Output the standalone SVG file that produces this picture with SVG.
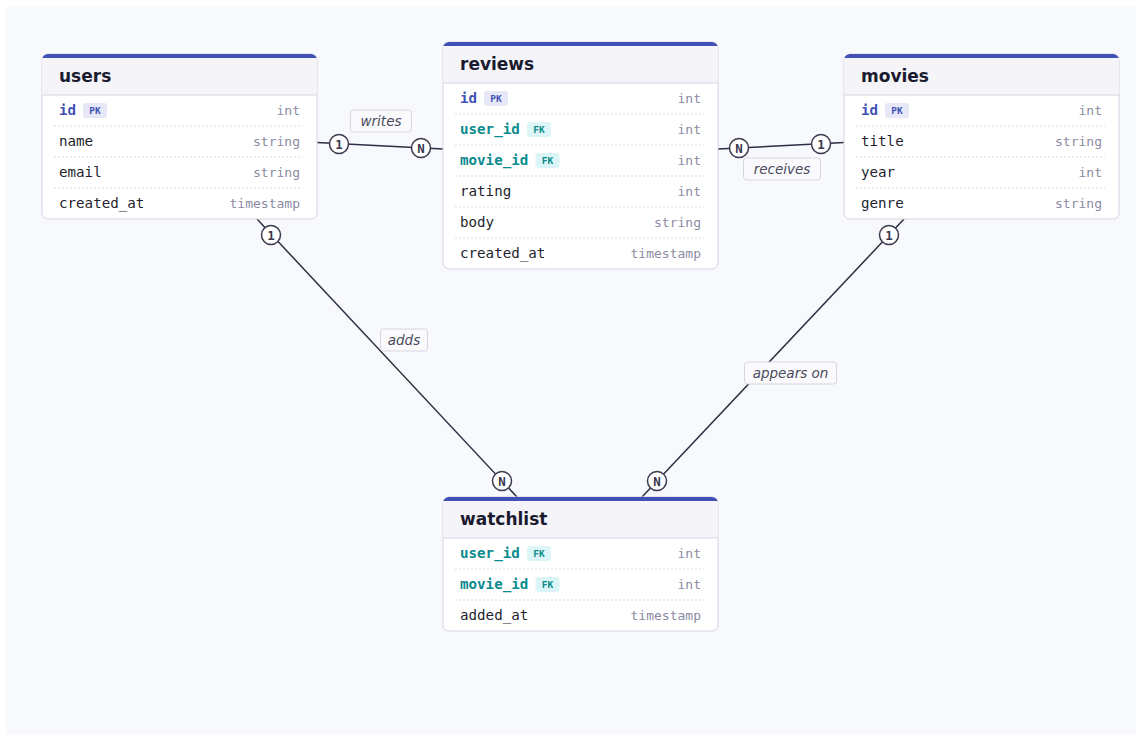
<svg xmlns="http://www.w3.org/2000/svg" width="1142" height="740" viewBox="0 0 1142 740">
<defs>
  <clipPath id="topclip"><rect x="0" y="0" width="275" height="120" rx="6"/></clipPath>
</defs>
<style>
  .card{fill:#ffffff;stroke:#d3d4df;stroke-width:1}
  .hdr{fill:#f4f4f9}
  .bar{fill:#3f51b5}
  .hsep{stroke:#d6d7e2;stroke-width:1}
  .sep{stroke:#d9dae4;stroke-width:1;stroke-dasharray:2 2}
  .title{font-family:"DejaVu Sans",sans-serif;font-weight:bold;font-size:17px;fill:#1b1b2f}
  .fld{font-family:"DejaVu Sans Mono",monospace;font-size:14.2px;fill:#1f1f2e}
  .pk{font-weight:bold;fill:#3f51b5}
  .fk{font-weight:bold;fill:#0b8a8f}
  .typ{font-family:"DejaVu Sans Mono",monospace;font-size:13px;fill:#8c8ca3;text-anchor:end}
  .bpk{fill:#e6e8f7}
  .bfk{fill:#dcf5f6}
  .btxt{font-family:"DejaVu Sans Mono",monospace;font-size:9.5px;font-weight:bold;text-anchor:middle}
  .tpk{fill:#3f51b5}
  .tfk{fill:#0b8a8f}
  .ln{stroke:#2e2e42;stroke-width:1.5;fill:none}
  .cc{fill:#ffffff;stroke:#3a3a4e;stroke-width:1.5}
  .ct{font-family:"DejaVu Sans Mono",monospace;font-size:12.5px;font-weight:bold;fill:#3a3a4e;text-anchor:middle}
  .lb{fill:#fafafc;stroke:#d6d7e1;stroke-width:1}
  .lt{font-family:"DejaVu Sans",sans-serif;font-style:italic;font-size:13.5px;fill:#4a4a5e;text-anchor:middle}
</style>
<rect x="0" y="0" width="1142" height="740" fill="#ffffff"/>
<rect x="6" y="6" width="1130" height="728" fill="#f8f9fc"/>

<g id="connectors">
  <line class="ln" x1="317" y1="142.5" x2="443" y2="149"/>
  <line class="ln" x1="718" y1="149" x2="844" y2="142.5"/>
  <line class="ln" x1="257" y1="219" x2="517" y2="497"/>
  <line class="ln" x1="904" y1="219" x2="642" y2="497"/>
  <circle class="cc" cx="339" cy="144" r="9.5"/><text class="ct" x="339" y="148.5">1</text>
  <circle class="cc" cx="421" cy="148" r="9.5"/><text class="ct" x="421" y="152.5">N</text>
  <circle class="cc" cx="739" cy="148" r="9.5"/><text class="ct" x="739" y="152.5">N</text>
  <circle class="cc" cx="821" cy="144" r="9.5"/><text class="ct" x="821" y="148.5">1</text>
  <circle class="cc" cx="271" cy="235" r="9.5"/><text class="ct" x="271" y="239.5">1</text>
  <circle class="cc" cx="502" cy="481" r="9.5"/><text class="ct" x="502" y="485.5">N</text>
  <circle class="cc" cx="889" cy="235" r="9.5"/><text class="ct" x="889" y="239.5">1</text>
  <circle class="cc" cx="657" cy="481" r="9.5"/><text class="ct" x="657" y="485.5">N</text>
  <rect class="lb" x="350.5" y="110" width="61" height="22" rx="3"/><text class="lt" x="381" y="125.5">writes</text>
  <rect class="lb" x="743.5" y="158" width="77" height="22" rx="3"/><text class="lt" x="782" y="173.5">receives</text>
  <rect class="lb" x="380.5" y="329" width="47" height="22" rx="3"/><text class="lt" x="404" y="344.5">adds</text>
  <rect class="lb" x="744.5" y="362" width="92" height="22" rx="3"/><text class="lt" x="790.5" y="377.5">appears on</text>
</g>

<g id="users" transform="translate(42,54)">
  <rect class="card" x="0" y="0" width="275" height="165" rx="6"/>
  <g clip-path="url(#topclip)">
    <rect class="hdr" x="0" y="0" width="275" height="41"/>
    <rect class="bar" x="0" y="0" width="275" height="4"/>
  </g>
  <line class="hsep" x1="0" y1="41" x2="275" y2="41"/>
  <text class="title" x="17" y="28">users</text>
  <text class="fld pk" x="17" y="61">id</text>
  <rect class="bpk" x="41" y="49" width="24" height="15" rx="3"/><text class="btxt tpk" x="53" y="60">PK</text>
  <text class="typ" x="258" y="61">int</text>
  <line class="sep" x1="12" y1="72" x2="261" y2="72"/>
  <text class="fld" x="17" y="92">name</text><text class="typ" x="258" y="92">string</text>
  <line class="sep" x1="12" y1="103" x2="261" y2="103"/>
  <text class="fld" x="17" y="123">email</text><text class="typ" x="258" y="123">string</text>
  <line class="sep" x1="12" y1="134" x2="261" y2="134"/>
  <text class="fld" x="17" y="154">created_at</text><text class="typ" x="258" y="154">timestamp</text>
</g>

<g id="reviews" transform="translate(443,42)">
  <rect class="card" x="0" y="0" width="275" height="227" rx="6"/>
  <g clip-path="url(#topclip)">
    <rect class="hdr" x="0" y="0" width="275" height="41"/>
    <rect class="bar" x="0" y="0" width="275" height="4"/>
  </g>
  <line class="hsep" x1="0" y1="41" x2="275" y2="41"/>
  <text class="title" x="17" y="28">reviews</text>
  <text class="fld pk" x="17" y="61">id</text>
  <rect class="bpk" x="41" y="49" width="24" height="15" rx="3"/><text class="btxt tpk" x="53" y="60">PK</text>
  <text class="typ" x="258" y="61">int</text>
  <line class="sep" x1="12" y1="72" x2="261" y2="72"/>
  <text class="fld fk" x="17" y="92">user_id</text>
  <rect class="bfk" x="84" y="80" width="24" height="15" rx="3"/><text class="btxt tfk" x="96" y="91">FK</text>
  <text class="typ" x="258" y="92">int</text>
  <line class="sep" x1="12" y1="103" x2="261" y2="103"/>
  <text class="fld fk" x="17" y="123">movie_id</text>
  <rect class="bfk" x="92.5" y="111" width="24" height="15" rx="3"/><text class="btxt tfk" x="104.5" y="122">FK</text>
  <text class="typ" x="258" y="123">int</text>
  <line class="sep" x1="12" y1="134" x2="261" y2="134"/>
  <text class="fld" x="17" y="154">rating</text><text class="typ" x="258" y="154">int</text>
  <line class="sep" x1="12" y1="165" x2="261" y2="165"/>
  <text class="fld" x="17" y="185">body</text><text class="typ" x="258" y="185">string</text>
  <line class="sep" x1="12" y1="196" x2="261" y2="196"/>
  <text class="fld" x="17" y="216">created_at</text><text class="typ" x="258" y="216">timestamp</text>
</g>

<g id="movies" transform="translate(844,54)">
  <rect class="card" x="0" y="0" width="275" height="165" rx="6"/>
  <g clip-path="url(#topclip)">
    <rect class="hdr" x="0" y="0" width="275" height="41"/>
    <rect class="bar" x="0" y="0" width="275" height="4"/>
  </g>
  <line class="hsep" x1="0" y1="41" x2="275" y2="41"/>
  <text class="title" x="17" y="28">movies</text>
  <text class="fld pk" x="17" y="61">id</text>
  <rect class="bpk" x="41" y="49" width="24" height="15" rx="3"/><text class="btxt tpk" x="53" y="60">PK</text>
  <text class="typ" x="258" y="61">int</text>
  <line class="sep" x1="12" y1="72" x2="261" y2="72"/>
  <text class="fld" x="17" y="92">title</text><text class="typ" x="258" y="92">string</text>
  <line class="sep" x1="12" y1="103" x2="261" y2="103"/>
  <text class="fld" x="17" y="123">year</text><text class="typ" x="258" y="123">int</text>
  <line class="sep" x1="12" y1="134" x2="261" y2="134"/>
  <text class="fld" x="17" y="154">genre</text><text class="typ" x="258" y="154">string</text>
</g>

<g id="watchlist" transform="translate(443,497)">
  <rect class="card" x="0" y="0" width="275" height="134" rx="6"/>
  <g clip-path="url(#topclip)">
    <rect class="hdr" x="0" y="0" width="275" height="41"/>
    <rect class="bar" x="0" y="0" width="275" height="4"/>
  </g>
  <line class="hsep" x1="0" y1="41" x2="275" y2="41"/>
  <text class="title" x="17" y="28">watchlist</text>
  <text class="fld fk" x="17" y="61">user_id</text>
  <rect class="bfk" x="84" y="49" width="24" height="15" rx="3"/><text class="btxt tfk" x="96" y="60">FK</text>
  <text class="typ" x="258" y="61">int</text>
  <line class="sep" x1="12" y1="72" x2="261" y2="72"/>
  <text class="fld fk" x="17" y="92">movie_id</text>
  <rect class="bfk" x="92.5" y="80" width="24" height="15" rx="3"/><text class="btxt tfk" x="104.5" y="91">FK</text>
  <text class="typ" x="258" y="92">int</text>
  <line class="sep" x1="12" y1="103" x2="261" y2="103"/>
  <text class="fld" x="17" y="123">added_at</text><text class="typ" x="258" y="123">timestamp</text>
</g>
</svg>
